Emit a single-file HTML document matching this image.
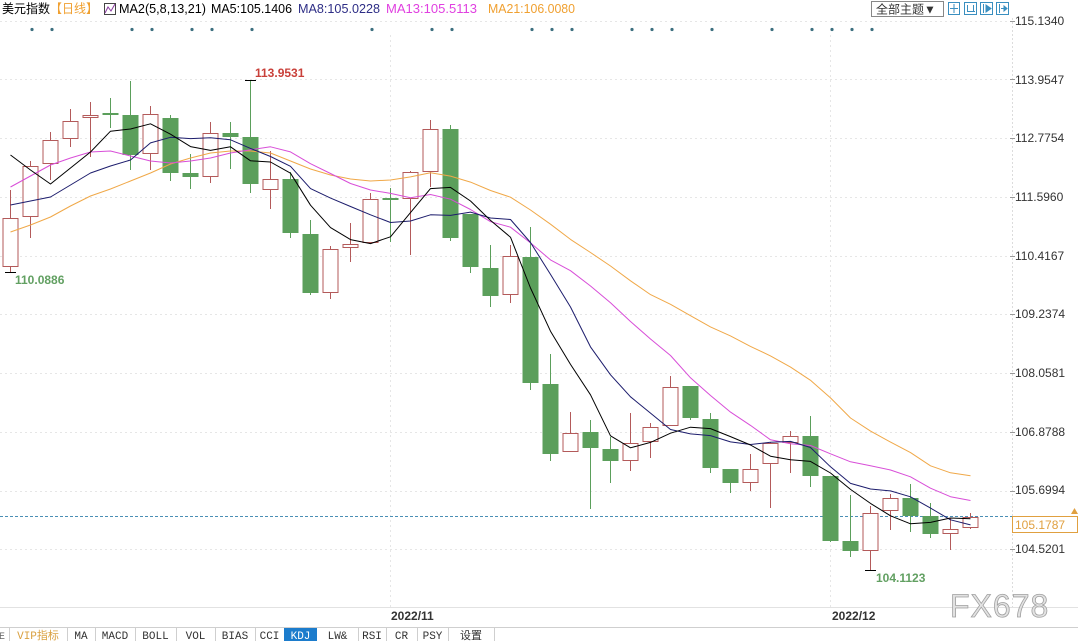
<!DOCTYPE html>
<html><head><meta charset="utf-8"><style>
html,body{margin:0;padding:0;background:#fff;}
svg{display:block;font-family:"Liberation Sans","Noto Sans CJK SC",sans-serif;}
</style></head><body>
<svg width="1078" height="641" viewBox="0 0 1078 641" xmlns="http://www.w3.org/2000/svg">
<rect width="1078" height="641" fill="#fff"/>
<!-- grid -->
<g stroke="#e6e6e6" stroke-width="1" stroke-dasharray="2 3">
<line x1="0" y1="21.5" x2="1012" y2="21.5"/><line x1="0" y1="79.5" x2="1012" y2="79.5"/>
<line x1="0" y1="138.5" x2="1012" y2="138.5"/><line x1="0" y1="197.5" x2="1012" y2="197.5"/>
<line x1="0" y1="256.5" x2="1012" y2="256.5"/><line x1="0" y1="314.5" x2="1012" y2="314.5"/>
<line x1="0" y1="373.5" x2="1012" y2="373.5"/><line x1="0" y1="432.5" x2="1012" y2="432.5"/>
<line x1="0" y1="491.5" x2="1012" y2="491.5"/><line x1="0" y1="549.5" x2="1012" y2="549.5"/>
<line x1="390.5" y1="35" x2="390.5" y2="607"/><line x1="830.5" y1="35" x2="830.5" y2="607"/>
</g>
<line x1="1012.5" y1="18" x2="1012.5" y2="607" stroke="#dcdcdc" stroke-dasharray="2 2"/>
<g stroke="#999"><line x1="1010" y1="21.5" x2="1015" y2="21.5"/><line x1="1010" y1="79.5" x2="1015" y2="79.5"/><line x1="1010" y1="138.5" x2="1015" y2="138.5"/><line x1="1010" y1="197.5" x2="1015" y2="197.5"/><line x1="1010" y1="256.5" x2="1015" y2="256.5"/><line x1="1010" y1="314.5" x2="1015" y2="314.5"/><line x1="1010" y1="373.5" x2="1015" y2="373.5"/><line x1="1010" y1="432.5" x2="1015" y2="432.5"/><line x1="1010" y1="491.5" x2="1015" y2="491.5"/><line x1="1010" y1="549.5" x2="1015" y2="549.5"/></g>
<g font-size="12" fill="#333">
<text x="1015" y="25">115.1340</text><text x="1015" y="84">113.9547</text><text x="1015" y="142">112.7754</text><text x="1015" y="201">111.5960</text><text x="1015" y="260">110.4167</text><text x="1015" y="318">109.2374</text><text x="1015" y="377">108.0581</text><text x="1015" y="436">106.8788</text><text x="1015" y="494">105.6994</text><text x="1015" y="553">104.5201</text>
</g>
<!-- header -->
<g font-size="12.5">
<text x="2" y="13" fill="#000" textLength="48" lengthAdjust="spacingAndGlyphs">美元指数</text>
<text x="50" y="13" fill="#f0a030" textLength="48" lengthAdjust="spacingAndGlyphs">【日线】</text>
<text x="119" y="13" fill="#000" textLength="87" lengthAdjust="spacingAndGlyphs">MA2(5,8,13,21)</text>
<text x="211" y="13" fill="#000" textLength="81" lengthAdjust="spacingAndGlyphs">MA5:105.1406</text>
<text x="298" y="13" fill="#2e2e86" textLength="82" lengthAdjust="spacingAndGlyphs">MA8:105.0228</text>
<text x="386" y="13" fill="#e040e0" textLength="91" lengthAdjust="spacingAndGlyphs">MA13:105.5113</text>
<text x="488" y="13" fill="#f0a030" textLength="87" lengthAdjust="spacingAndGlyphs">MA21:106.0080</text>
</g>
<rect x="104.5" y="3.5" width="11" height="11" fill="none" stroke="#444"/>
<polyline points="105,13 108,7 111,11 115,4" fill="none" stroke="#8a3aa0"/>
<rect x="871.5" y="1.5" width="72" height="15" fill="#fff" stroke="#888"/>
<text x="876" y="13.5" font-size="12" fill="#333">全部主题▼</text>
<g stroke="#3a8fc0" fill="none">
<rect x="948.5" y="2.5" width="11" height="12"/><rect x="964.5" y="2.5" width="12" height="12"/><rect x="980.5" y="2.5" width="12" height="12"/><rect x="996.5" y="2.5" width="12" height="12"/>
<line x1="954" y1="4" x2="954" y2="13"/><line x1="950" y1="8.5" x2="958" y2="8.5"/>
<line x1="967.5" y1="5" x2="967.5" y2="12"/><line x1="973.5" y1="5" x2="973.5" y2="12"/><line x1="967" y1="11.5" x2="975" y2="11.5"/>
<line x1="983.5" y1="4" x2="983.5" y2="13"/><polygon points="986,5 991,8.5 986,12" fill="#3a8fc0"/>
<line x1="999.5" y1="4" x2="999.5" y2="13"/><line x1="1001" y1="8.5" x2="1007" y2="8.5"/><polygon points="1004,6 1007,8.5 1004,11" fill="#3a8fc0"/>
</g>
<!-- dots -->
<g fill="#3c6f7f">
<circle cx="32" cy="29.5" r="1.6"/><circle cx="52" cy="29.5" r="1.6"/><circle cx="132" cy="29.5" r="1.6"/><circle cx="152" cy="29.5" r="1.6"/><circle cx="192" cy="29.5" r="1.6"/><circle cx="212" cy="29.5" r="1.6"/><circle cx="252" cy="29.5" r="1.6"/><circle cx="372" cy="29.5" r="1.6"/><circle cx="432" cy="29.5" r="1.6"/><circle cx="452" cy="29.5" r="1.6"/><circle cx="532" cy="29.5" r="1.6"/><circle cx="552" cy="29.5" r="1.6"/><circle cx="572" cy="29.5" r="1.6"/><circle cx="632" cy="29.5" r="1.6"/><circle cx="652" cy="29.5" r="1.6"/><circle cx="672" cy="29.5" r="1.6"/><circle cx="712" cy="29.5" r="1.6"/><circle cx="772" cy="29.5" r="1.6"/><circle cx="812" cy="29.5" r="1.6"/><circle cx="832" cy="29.5" r="1.6"/><circle cx="852" cy="29.5" r="1.6"/><circle cx="872" cy="29.5" r="1.6"/>
</g>
<!-- current price line -->
<line x1="0" y1="516.5" x2="1012" y2="516.5" stroke="#4a8fb5" stroke-dasharray="3 2"/>
<!-- red candles -->
<g stroke="#b35a5a" fill="#fff">
<line x1="10.5" y1="190" x2="10.5" y2="272"/><rect x="3" y="218.5" width="15" height="48"/>
<line x1="30.5" y1="161" x2="30.5" y2="238"/><rect x="23" y="166.5" width="15" height="50"/>
<line x1="50.5" y1="132" x2="50.5" y2="180"/><rect x="43" y="140.5" width="15" height="23"/>
<line x1="70.5" y1="109" x2="70.5" y2="147"/><rect x="63" y="121.5" width="15" height="17"/>
<line x1="90.5" y1="102" x2="90.5" y2="157"/><rect x="83" y="115.5" width="15" height="2"/>
<line x1="150.5" y1="106" x2="150.5" y2="170"/><rect x="143" y="114.5" width="15" height="39"/>
<line x1="210.5" y1="122" x2="210.5" y2="183"/><rect x="203" y="133.5" width="15" height="43"/>
<line x1="270.5" y1="151" x2="270.5" y2="209"/><rect x="263" y="179.5" width="15" height="10"/>
<line x1="330.5" y1="246" x2="330.5" y2="299"/><rect x="323" y="249.5" width="15" height="43"/>
<line x1="350.5" y1="223" x2="350.5" y2="262"/><rect x="343" y="244.5" width="15" height="3"/>
<line x1="370.5" y1="193" x2="370.5" y2="243"/><rect x="363" y="199.5" width="15" height="43"/>
<line x1="410.5" y1="171" x2="410.5" y2="255"/><rect x="403" y="172.5" width="15" height="26"/>
<line x1="430.5" y1="120" x2="430.5" y2="187"/><rect x="423" y="129.5" width="15" height="42"/>
<line x1="510.5" y1="245" x2="510.5" y2="303"/><rect x="503" y="256.5" width="15" height="38"/>
<line x1="570.5" y1="412" x2="570.5" y2="452"/><rect x="563" y="433.5" width="15" height="18"/>
<line x1="630.5" y1="413" x2="630.5" y2="471"/><rect x="623" y="443.5" width="15" height="17"/>
<line x1="650.5" y1="423" x2="650.5" y2="458"/><rect x="643" y="427.5" width="15" height="14"/>
<line x1="670.5" y1="376" x2="670.5" y2="426"/><rect x="663" y="387.5" width="15" height="38"/>
<line x1="750.5" y1="454" x2="750.5" y2="491"/><rect x="743" y="469.5" width="15" height="13"/>
<line x1="770.5" y1="442" x2="770.5" y2="508"/><rect x="763" y="443.5" width="15" height="20"/>
<line x1="790.5" y1="431" x2="790.5" y2="473"/><rect x="783" y="436.5" width="15" height="6"/>
<line x1="870.5" y1="506" x2="870.5" y2="570"/><rect x="863" y="513.5" width="15" height="37"/>
<line x1="890.5" y1="494" x2="890.5" y2="530"/><rect x="883" y="498.5" width="15" height="12"/>
<line x1="950.5" y1="518" x2="950.5" y2="550"/><rect x="943" y="529.5" width="15" height="4"/>
<line x1="970.5" y1="513" x2="970.5" y2="529"/><rect x="963" y="517.5" width="15" height="10"/>
</g>
<!-- green candles -->
<g stroke="#5b9f5b" fill="#5b9f5b">
<line x1="110.5" y1="98" x2="110.5" y2="128"/><rect x="102.5" y="113" width="16" height="2" stroke="none"/>
<line x1="130.5" y1="81" x2="130.5" y2="170"/><rect x="122.5" y="115" width="16" height="40" stroke="none"/>
<line x1="170.5" y1="115" x2="170.5" y2="181"/><rect x="162.5" y="118" width="16" height="55" stroke="none"/>
<line x1="190.5" y1="154" x2="190.5" y2="189"/><rect x="182.5" y="173" width="16" height="4" stroke="none"/>
<line x1="230.5" y1="122" x2="230.5" y2="169"/><rect x="222.5" y="133" width="16" height="4" stroke="none"/>
<line x1="250.5" y1="80" x2="250.5" y2="193"/><rect x="242.5" y="137" width="16" height="47" stroke="none"/>
<line x1="290.5" y1="172" x2="290.5" y2="238"/><rect x="282.5" y="179" width="16" height="54" stroke="none"/>
<line x1="310.5" y1="220" x2="310.5" y2="295"/><rect x="302.5" y="234" width="16" height="59" stroke="none"/>
<line x1="390.5" y1="188" x2="390.5" y2="242"/><rect x="382.5" y="198" width="16" height="2" stroke="none"/>
<line x1="450.5" y1="125" x2="450.5" y2="241"/><rect x="442.5" y="129" width="16" height="109" stroke="none"/>
<line x1="470.5" y1="214" x2="470.5" y2="273"/><rect x="462.5" y="214" width="16" height="53" stroke="none"/>
<line x1="490.5" y1="245" x2="490.5" y2="307"/><rect x="482.5" y="268" width="16" height="28" stroke="none"/>
<line x1="530.5" y1="227" x2="530.5" y2="390"/><rect x="522.5" y="257" width="16" height="126" stroke="none"/>
<line x1="550.5" y1="354" x2="550.5" y2="461"/><rect x="542.5" y="384" width="16" height="70" stroke="none"/>
<line x1="590.5" y1="420" x2="590.5" y2="509"/><rect x="582.5" y="432" width="16" height="16" stroke="none"/>
<line x1="610.5" y1="437" x2="610.5" y2="483"/><rect x="602.5" y="449" width="16" height="12" stroke="none"/>
<line x1="690.5" y1="386" x2="690.5" y2="420"/><rect x="682.5" y="386" width="16" height="32" stroke="none"/>
<line x1="710.5" y1="413" x2="710.5" y2="473"/><rect x="702.5" y="419" width="16" height="49" stroke="none"/>
<line x1="730.5" y1="469" x2="730.5" y2="493"/><rect x="722.5" y="469" width="16" height="14" stroke="none"/>
<line x1="810.5" y1="416" x2="810.5" y2="487"/><rect x="802.5" y="436" width="16" height="40" stroke="none"/>
<line x1="830.5" y1="476" x2="830.5" y2="542"/><rect x="822.5" y="476" width="16" height="65" stroke="none"/>
<line x1="850.5" y1="495" x2="850.5" y2="557"/><rect x="842.5" y="541" width="16" height="10" stroke="none"/>
<line x1="910.5" y1="484" x2="910.5" y2="532"/><rect x="902.5" y="498" width="16" height="18" stroke="none"/>
<line x1="930.5" y1="503" x2="930.5" y2="538"/><rect x="922.5" y="516" width="16" height="18" stroke="none"/>
</g>
<!-- MA lines -->
<g fill="none" stroke-width="1" stroke-linejoin="round">
<polyline stroke="#f0a848" points="10.5,232 30.5,225 50.5,217 70.5,206 90.5,196 110.5,189 130.5,181 150.5,173 170.5,164 190.5,158 210.5,153 230.5,151 250.5,151 270.5,153 290.5,161 310.5,169 330.5,175 350.5,179 370.5,181 390.5,180 410.5,176.9 430.5,172.7 450.5,176.1 470.5,182.1 490.5,190.5 510.5,197.2 530.5,210 550.5,224.2 570.5,239.4 590.5,252.5 610.5,266 630.5,280.8 650.5,294.6 670.5,304.3 690.5,315.7 710.5,326.9 730.5,335.9 750.5,346.4 770.5,355.9 790.5,367.1 810.5,380.3 830.5,397.9 850.5,418 870.5,431.1 890.5,442.1 910.5,452.6 930.5,465.8 950.5,472.8 970.5,475.8"/>
<polyline stroke="#d84ed8" points="10.5,187 30.5,176 50.5,165 70.5,158 90.5,152 110.5,151 130.5,156 150.5,161 170.5,163 190.5,161 210.5,158 230.5,153 250.5,149.8 270.5,146.8 290.5,151.9 310.5,163.7 330.5,173.5 350.5,183.5 370.5,190 390.5,193.4 410.5,197.8 430.5,194.5 450.5,199.2 470.5,209.5 490.5,221.7 510.5,227.2 530.5,242.9 550.5,259.9 570.5,270.7 590.5,286 610.5,302.7 630.5,321.5 650.5,339 670.5,355.5 690.5,377.8 710.5,395.5 730.5,412.1 750.5,425.4 770.5,439.8 790.5,443.8 810.5,445.5 830.5,453.8 850.5,461.8 870.5,465.8 890.5,470 910.5,476.8 930.5,488.2 950.5,496.7 970.5,500.5"/>
<polyline stroke="#1c1c6c" points="10.5,205 30.5,201 50.5,197 70.5,185 90.5,173 110.5,166 130.5,160 150.5,142.9 170.5,137.3 190.5,138.6 210.5,137.8 230.5,139.8 250.5,148.4 270.5,156.5 290.5,166.3 310.5,188.6 330.5,198.1 350.5,206.5 370.5,214.8 390.5,222.5 410.5,221 430.5,214.8 450.5,215.4 470.5,212.1 490.5,218 510.5,219.5 530.5,242.5 550.5,274.4 570.5,307 590.5,346.9 610.5,374.8 630.5,396.8 650.5,413.1 670.5,429.5 690.5,433.9 710.5,435.6 730.5,441.9 750.5,444.5 770.5,442.3 790.5,441.4 810.5,447.5 830.5,466.8 850.5,483.4 870.5,489 890.5,490.9 910.5,496.8 930.5,508.1 950.5,519.8 970.5,524.9"/>
<polyline stroke="#000" points="10.5,155 30.5,170 50.5,184 70.5,168 90.5,152 110.5,131.2 130.5,129 150.5,123.8 170.5,134.2 190.5,146.6 210.5,150.4 230.5,146.8 250.5,160.8 270.5,162 290.5,173.2 310.5,205.2 330.5,227.6 350.5,239.6 370.5,243.6 390.5,236.8 410.5,212.6 430.5,188.6 450.5,187.4 470.5,201 490.5,220.4 510.5,237.2 530.5,288 550.5,331.2 570.5,364.4 590.5,394.8 610.5,435.8 630.5,447.8 650.5,442.4 670.5,433.2 690.5,427.2 710.5,428.6 730.5,436.6 750.5,445 770.5,456.2 790.5,459.8 810.5,461.4 830.5,473 850.5,489.4 870.5,503.4 890.5,515.8 910.5,523.8 930.5,522.4 950.5,518 970.5,518.8"/>
</g>
<!-- extreme markers -->
<g stroke="#000"><line x1="5" y1="272.5" x2="16" y2="272.5"/><line x1="245" y1="80.5" x2="256" y2="80.5"/><line x1="865" y1="570.5" x2="876" y2="570.5"/></g>
<g font-size="12" font-weight="bold">
<text x="255" y="77" fill="#c9403a">113.9531</text>
<text x="15" y="284" fill="#62a062">110.0886</text>
<text x="876" y="582" fill="#62a062">104.1123</text>
</g>
<!-- current price box -->
<rect x="1012.5" y="516.5" width="65" height="16" fill="#fff" stroke="#e0a040"/>
<text x="1015" y="529" font-size="12" fill="#e0a040">105.1787</text>
<polygon points="1071,514 1074.5,508 1078,514" fill="#e0a040"/>
<!-- bottom -->
<line x1="0" y1="607.5" x2="1078" y2="607.5" stroke="#e2e2e2"/>
<text x="391" y="620" font-size="12" font-weight="bold" fill="#333">2022/11</text>
<text x="832" y="620" font-size="12" font-weight="bold" fill="#333">2022/12</text>
<text x="950" y="617" font-size="32" letter-spacing="1" fill="#e2e2e2" stroke="#a0a0a0" stroke-width="0.8">FX678</text>
<line x1="0" y1="627.5" x2="1078" y2="627.5" stroke="#cfcfcf"/>
<rect x="284" y="628" width="33" height="13" fill="#1c7ccc"/>
<g stroke="#cfcfcf">
<line x1="9.5" y1="628" x2="9.5" y2="641"/><line x1="67.5" y1="628" x2="67.5" y2="641"/><line x1="95.5" y1="628" x2="95.5" y2="641"/><line x1="135.5" y1="628" x2="135.5" y2="641"/><line x1="176.5" y1="628" x2="176.5" y2="641"/><line x1="215.5" y1="628" x2="215.5" y2="641"/><line x1="255.5" y1="628" x2="255.5" y2="641"/><line x1="358.5" y1="628" x2="358.5" y2="641"/><line x1="386.5" y1="628" x2="386.5" y2="641"/><line x1="417.5" y1="628" x2="417.5" y2="641"/><line x1="448.5" y1="628" x2="448.5" y2="641"/><line x1="494.5" y1="628" x2="494.5" y2="641"/>
</g>
<g font-size="11" text-anchor="middle" fill="#333" font-family="Liberation Mono, Noto Sans CJK SC, monospace">
<text x="2" y="639" fill="#666" font-size="10">E</text>
<text x="38" y="639" fill="#d9a040">VIP指标</text>
<text x="81" y="639">MA</text>
<text x="115" y="639">MACD</text>
<text x="155.5" y="639">BOLL</text>
<text x="195.5" y="639">VOL</text>
<text x="235" y="639">BIAS</text>
<text x="269.5" y="639">CCI</text>
<text x="300.5" y="639" fill="#fff">KDJ</text>
<text x="337.5" y="639">LW&amp;</text>
<text x="372" y="639">RSI</text>
<text x="401.5" y="639">CR</text>
<text x="432.5" y="639">PSY</text>
<text x="471" y="639">设置</text>
</g>
</svg>
</body></html>
